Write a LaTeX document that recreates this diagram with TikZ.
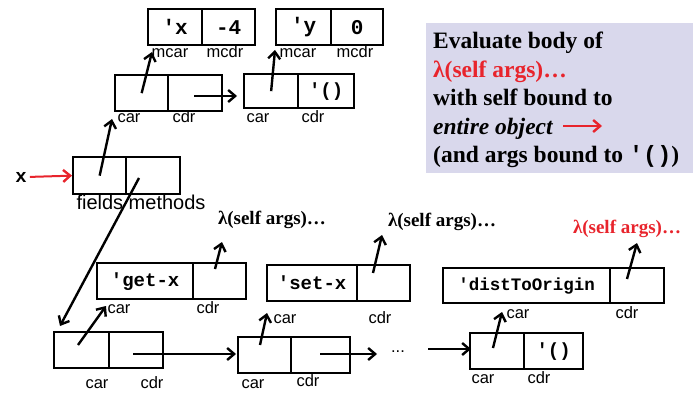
\documentclass[tikz,border=0pt]{standalone}
\usepackage{fontspec}
\setmainfont{Liberation Serif}
\setsansfont{Liberation Sans}
\setmonofont{Liberation Mono}
\usetikzlibrary{arrows.meta}
\definecolor{myred}{HTML}{E8242C}
\definecolor{lav}{HTML}{D9D8EC}
\begin{document}
\begin{tikzpicture}[x=1pt,y=-1pt,
 cell/.style={draw, line width=2.3pt, fill=white, anchor=north west, inner sep=0pt,
   font=\ttfamily\bfseries\fontsize{19}{19}\selectfont},
 lbl/.style={font=\sffamily\fontsize{16.5}{16.5}\selectfont, inner sep=0pt, anchor=base},
 lam/.style={font=\bfseries\fontsize{19}{19}\selectfont, inner sep=0pt},
 ptr/.style={line width=2.4pt, -{Straight Barb[length=7pt,width=12pt,line width=2.4pt]}},
 note/.style={font=\bfseries\fontsize{23.5}{23.5}\selectfont, inner sep=0pt, anchor=base west},
]
\useasboundingbox (0,0) rectangle (699,393);

% top pairs
\node[cell, minimum width=54pt, minimum height=36pt, font=\ttfamily\bfseries\fontsize{21}{21}\selectfont] (xa) at (147,8) {'x};
\node[cell, minimum width=53pt, minimum height=36pt, font=\ttfamily\bfseries\fontsize{21}{21}\selectfont] (xd) at (201,8) {-4};
\node[cell, minimum width=55pt, minimum height=36pt, font=\ttfamily\bfseries\fontsize{21}{21}\selectfont] (ya) at (275,8) {'y};
\node[cell, minimum width=52pt, minimum height=36pt, font=\ttfamily\bfseries\fontsize{21}{21}\selectfont] (yd) at (330,8) {0};
\node[lbl] (xal) at (170,58) {mcar};
\node[lbl] (xdl) at (225,58) {mcdr};
\node[lbl] (yal) at (298,58) {mcar};
\node[lbl] (ydl) at (355,58) {mcdr};

% middle list
\node[cell, minimum width=53pt, minimum height=36pt] (ma) at (114,74) {};
\node[cell, minimum width=54pt, minimum height=36pt] (md) at (167,74) {};
\node[cell, minimum width=54pt, minimum height=34pt] (na) at (243,73) {};
\node[cell, minimum width=56pt, minimum height=34pt] (nd) at (297,73) {'()};
\node[lbl] (mal) at (129,123) {car};
\node[lbl] (mdl) at (184,123) {cdr};
\node[lbl] (nal) at (258,123) {car};
\node[lbl] (ndl) at (313,123) {cdr};

% object
\node[cell, minimum width=53pt, minimum height=37pt] (fa) at (72,156) {};
\node[cell, minimum width=54pt, minimum height=37pt] (fd) at (125,156) {};
\node[font=\sffamily\fontsize{20}{20}\selectfont, inner sep=0pt, anchor=base] (fml) at (141,209) {fields methods};
\node[font=\ttfamily\bfseries\fontsize{19}{19}\selectfont, inner sep=0pt] (xl) at (21,177) {x};

% method entries
\node[cell, minimum width=96pt, minimum height=36pt] (ga) at (96,262) {'get-x};
\node[cell, minimum width=53pt, minimum height=36pt] (gd) at (192,262) {};
\node[cell, minimum width=90pt, minimum height=36pt] (sa) at (266,264) {'set-x};
\node[cell, minimum width=53pt, minimum height=36pt] (sd) at (356,264) {};
\node[cell, minimum width=167pt, minimum height=35pt, font=\ttfamily\bfseries\fontsize{17.5}{17.5}\selectfont] (da) at (442,267) {'distToOrigin};
\node[cell, minimum width=54pt, minimum height=35pt] (dd) at (609,267) {};
\node[lbl] (gal) at (119,313) {car};
\node[lbl] (gdl) at (208,313) {cdr};
\node[lbl] (sal) at (285,323) {car};
\node[lbl] (sdl) at (380,323) {cdr};
\node[lbl] (dal) at (518,318) {car};
\node[lbl] (ddl) at (627,318) {cdr};
\node[lam] (gl) at (272,220) {λ(self args)…};
\node[lam] (sl) at (442,222) {λ(self args)…};
\node[lam, text=myred] (dl) at (627,229) {λ(self args)…};

% bottom list
\node[cell, minimum width=55pt, minimum height=36pt] (ba) at (53,331) {};
\node[cell, minimum width=54pt, minimum height=36pt] (bd) at (108,331) {};
\node[cell, minimum width=53pt, minimum height=36pt] (ca) at (237,336) {};
\node[cell, minimum width=59pt, minimum height=36pt] (cd) at (290,336) {};
\node[cell, minimum width=54pt, minimum height=36pt] (ea) at (469,332) {};
\node[cell, minimum width=59pt, minimum height=36pt] (ed) at (523,332) {'()};
\node[lbl] (bal) at (97,388) {car};
\node[lbl] (bdl) at (152,388) {cdr};
\node[lbl] (cal) at (253,388) {car};
\node[lbl] (cdl) at (308,386) {cdr};
\node[lbl] (eal) at (483,383) {car};
\node[lbl] (edl) at (539,383) {cdr};
\node[font=\sffamily\fontsize{16.5}{16.5}\selectfont, inner sep=0pt] (dots) at (398,352) {...};

% note box
\node[fill=lav, anchor=north west, minimum width=267pt, minimum height=150pt, inner sep=0pt] (nb) at (426,23) {};
\node[note] (n1) at (433,49) {Evaluate body of};
\node[note, text=myred] (n2) at (433,77.5) {λ(self args)…};
\node[note] (n3) at (433,106) {with self bound to};
\node[note] (n4) at (433,134.5) {\itshape entire object};
\node[note] (n5) at (433,163) {(and args bound to {\ttfamily '()})};
\coordinate (ra) at (563,126);
\coordinate (rb) at (602,126);
\draw[ptr, myred, line width=2pt] (ra) -- (rb);

% coordinates for pointer ends
\coordinate (t1) at (112,119);
\coordinate (t2) at (152,52);
\coordinate (t3) at (275,50);
\coordinate (s4) at (194,96);
\coordinate (t4) at (237,96);
\coordinate (s5) at (139,178);
\coordinate (t5) at (60,326);
\coordinate (t6) at (106,306);
\coordinate (s7) at (133,354);
\coordinate (t7) at (236,354);
\coordinate (s8) at (260,345);
\coordinate (t8) at (267,313);
\coordinate (s9) at (320,354);
\coordinate (t9) at (377,354);
\coordinate (s10) at (428,349);
\coordinate (t10) at (471,349);
\coordinate (s11) at (493,348);
\coordinate (t11) at (502,312);
\coordinate (s12) at (215,269);
\coordinate (t12) at (222,242);
\coordinate (s13) at (373,273);
\coordinate (t13) at (382,235);
\coordinate (s14) at (627,279);
\coordinate (t14) at (637,243);
\coordinate (s15) at (78,345);

% pointers
\draw[ptr, myred, line width=2pt, shorten <=3pt] (xl.east) -- (fa.west);
\draw[ptr] (fa.center) -- (t1);
\draw[ptr] (ma.center) -- (t2);
\draw[ptr] (na.center) -- (t3);
\draw[ptr] (s4) -- (t4);
\draw[ptr] (s5) -- (t5);
\draw[ptr] (s15) -- (t6);
\draw[ptr] (s7) -- (t7);
\draw[ptr] (s8) -- (t8);
\draw[ptr] (s9) -- (t9);
\draw[ptr] (s10) -- (t10);
\draw[ptr] (s11) -- (t11);
\draw[ptr] (s12) -- (t12);
\draw[ptr] (s13) -- (t13);
\draw[ptr] (s14) -- (t14);
\end{tikzpicture}
\end{document}
